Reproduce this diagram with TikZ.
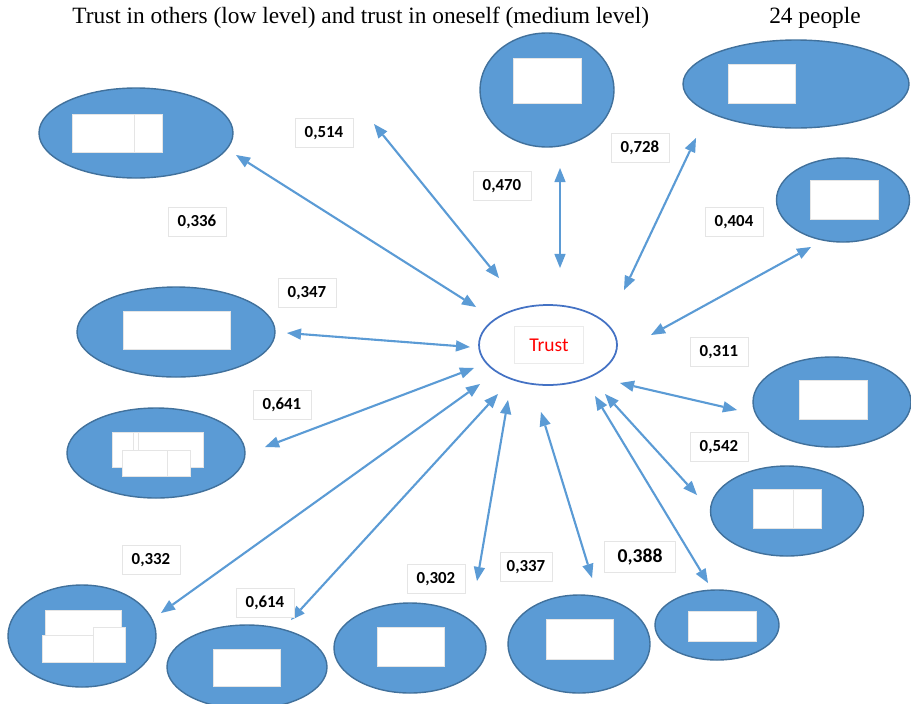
\documentclass[tikz,border=0pt]{standalone}
\usepackage{fontspec}
\setmainfont{Liberation Serif}
\newfontfamily\calibri{Carlito}
\usepackage{tikz}
\usetikzlibrary{shapes,arrows,arrows.meta,calc,positioning,shapes.geometric}

\definecolor{officeblue}{HTML}{5B9BD5}
\definecolor{officeedge}{HTML}{41719C}
\definecolor{trustedge}{HTML}{4472C4}

\tikzset{
  blob/.style 2 args={ellipse,draw=officeedge,fill=officeblue,line width=0.8pt,
                      inner sep=0pt,minimum width=#1*0.02cm,minimum height=#2*0.02cm},
  hole/.style={fill=white,draw=black!10,line width=0.3pt},
  val/.style={draw=black!10,fill=white,line width=0.4pt,inner sep=0pt,
              minimum width=1.16cm,minimum height=0.58cm,
              font=\calibri\bfseries\fontsize{9.6}{11}\selectfont},
  link/.style={<->,>={Triangle[length=8pt,width=6.5pt,line width=0pt]},
               draw=officeblue,line width=1.2pt}
}

\begin{document}
\begin{tikzpicture}[x=0.02cm,y=-0.02cm]
 \useasboundingbox (0,0) rectangle (911,703);

 % heading
 \node[anchor=west,inner sep=0pt,font=\fontsize{13.3}{15}\selectfont] (head) at (72,18)
      {Trust in others (low level) and trust in oneself (medium level)};
 \node[inner sep=0pt,font=\fontsize{13.3}{15}\selectfont] (count) at (815,18) {24 people};

 % centre
 \node[ellipse,draw=trustedge,line width=1pt,fill=white,inner sep=0pt,
       minimum width=2.76cm,minimum height=1.6cm] (trust) at (548,345) {};
 \node[draw=black!8,line width=0.4pt,minimum width=1.38cm,minimum height=0.74cm,inner sep=0pt,
       text=red,font=\calibri\fontsize{11.1}{13}\selectfont] (trustlbl) at (549,345) {Trust};

 % outer ellipses
 \node[blob={194}{90}]  (tl) at (136,133) {};
 \node[blob={134}{114}] (tc) at (547,90)  {};
 \node[blob={226}{88}]  (tr) at (796,84)  {};
 \node[blob={133}{84}]  (r1) at (843,200) {};
 \node[blob={158}{90}]  (r2) at (832,402) {};
 \node[blob={153}{90}]  (r3) at (787,511) {};
 \node[blob={124}{70}]  (br) at (717,625) {};
 \node[blob={142}{98}]  (b1) at (579,644) {};
 \node[blob={152}{90}]  (b2) at (410,648) {};
 \node[blob={160}{84}]  (b3) at (247,667) {};
 \node[blob={148}{102}] (bl) at (82,636)  {};
 \node[blob={178}{90}]  (l1) at (156,453) {};
 \node[blob={198}{90}]  (l2) at (176,332) {};

 % white boxes inside
 \draw[hole] (72,114) rectangle (162,152);  \draw[black!10,line width=0.3pt] (134,114) -- (134,152);
 \draw[hole] (513,58) rectangle (581,103);
 \draw[hole] (728,64) rectangle (795,103);
 \draw[hole] (810,180) rectangle (878,219);
 \draw[hole] (799,380) rectangle (867,419);
 \draw[hole] (753,489) rectangle (821,528); \draw[black!10,line width=0.3pt] (793,489) -- (793,528);
 \draw[hole] (688,611) rectangle (756,641);
 \draw[hole] (546,619) rectangle (613,659);
 \draw[hole] (377,627) rectangle (444,666);
 \draw[hole] (213,649) rectangle (280,686);
 \draw[hole] (45,610) rectangle (121,650);
 \draw[hole] (93,627) rectangle (125,662);
 \draw[hole] (42,635) rectangle (93,662);
 \draw[hole] (123,311) rectangle (230,349);
 \draw[hole] (112,432) rectangle (203,467);
 \draw[black!10,line width=0.3pt] (133,432) -- (133,450) (138,432) -- (138,450);
 \draw[hole] (122,450) rectangle (190,476); \draw[black!10,line width=0.3pt] (167,450) -- (167,476);

 % arrow ends
 \coordinate (oA) at (236,155); \coordinate (tA) at (476,307);
 \coordinate (oB) at (374,124); \coordinate (tB) at (499,278);
 \coordinate (oC) at (560,168); \coordinate (tC) at (560,268);
 \coordinate (oD) at (696,138); \coordinate (tD) at (624,290);
 \coordinate (oE) at (811,247); \coordinate (tE) at (651,335);
 \coordinate (oF) at (737,410); \coordinate (tF) at (620,383);
 \coordinate (oG) at (697,495); \coordinate (tG) at (605,394);
 \coordinate (oH) at (708,583); \coordinate (tH) at (595,396);
 \coordinate (oI) at (592,578); \coordinate (tI) at (541,412);
 \coordinate (oJ) at (477,581); \coordinate (tJ) at (508,400);
 \coordinate (oK) at (291,620); \coordinate (tK) at (498,394);
 \coordinate (oL) at (161,613); \coordinate (tL) at (480,384);
 \coordinate (oM) at (265,447); \coordinate (tM) at (474,368);
 \coordinate (oN) at (287,333); \coordinate (tN) at (470,347);

 \draw[link] (oA) -- (tA);  \draw[link] (oB) -- (tB);
 \draw[link] (oC) -- (tC);  \draw[link] (oD) -- (tD);
 \draw[link] (oE) -- (tE);  \draw[link] (oF) -- (tF);
 \draw[link] (oG) -- (tG);  \draw[link] (oH) -- (tH);
 \draw[link] (oI) -- (tI);  \draw[link] (oJ) -- (tJ);
 \draw[link] (oK) -- (tK);  \draw[link] (oL) -- (tL);
 \draw[link] (oM) -- (tM);  \draw[link] (oN) -- (tN);

 % coefficients
 \node[val] (v514) at (324,133) {0,514};
 \node[val] (v336) at (197,222) {0,336};
 \node[val] (v470) at (502,186) {0,470};
 \node[val] (v728) at (640,148) {0,728};
 \node[val] (v404) at (734,222) {0,404};
 \node[val] (v347) at (307,293) {0,347};
 \node[val] (v311) at (719,352) {0,311};
 \node[val] (v641) at (282,405) {0,641};
 \node[val] (v542) at (719,447) {0,542};
 \node[val] (v332) at (151,560) {0,332};
 \node[val] (v614) at (265,603) {0,614};
 \node[val] (v302) at (436,579) {0,302};
 \node[val,minimum width=1.04cm] (v337) at (526,567) {0,337};
 \node[val,minimum width=1.42cm,minimum height=0.62cm,
       font=\calibri\bfseries\fontsize{11.2}{13}\selectfont] (v388) at (640,557) {0,388};
\end{tikzpicture}
\end{document}
